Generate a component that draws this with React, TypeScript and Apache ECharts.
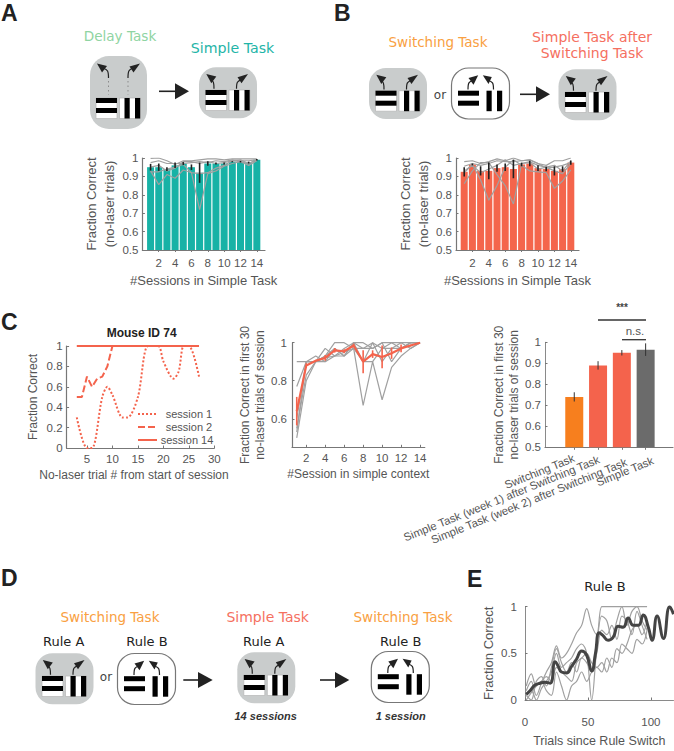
import React, { useEffect, useRef } from "react";
import * as echarts from "echarts";

const sessions = [1, 2, 3, 4, 5, 6, 7, 8, 9, 10, 11, 12, 13, 14];
const sessionTicks = [2, 4, 6, 8, 10, 12, 14];

// Panel A
const simpleBars = [0.95, 0.95, 0.94, 0.96, 0.97, 0.95, 0.92, 0.97, 0.97, 0.97, 0.98, 0.98, 0.975, 0.99];
const simpleErr = [0.018, 0.02, 0.01, 0.015, 0.008, 0.015, 0.055, 0.012, 0.006, 0.005, 0.003, 0.004, 0.005, 0.004];
const simpleMice = [
  [0.998, 1, 0.985, 0.965, 0.985, 0.985, 0.99, 0.995, 0.995, 0.99, 0.995, 0.995, 0.995, 0.995],
  [0.975, 0.985, 0.97, 0.97, 0.97, 0.975, 0.98, 0.975, 0.985, 0.98, 0.99, 0.985, 0.985, 0.99],
  [0.93, 0.855, 0.91, 0.89, 0.935, 0.92, 0.72, 0.915, 0.93, 0.955, 0.97, 0.98, 0.96, 0.985],
  [0.925, 0.925, 0.94, 0.95, 0.965, 0.92, 0.915, 0.92, 0.945, 0.96, 0.985, 0.99, 0.97, 0.99],
  [0.95, 0.96, 0.93, 0.945, 0.98, 0.98, 0.97, 0.98, 0.97, 0.975, 0.985, 0.98, 0.97, 0.99],
];

// Panel B
const afterBars = [0.925, 0.965, 0.93, 0.93, 0.945, 0.95, 0.94, 0.965, 0.97, 0.945, 0.94, 0.93, 0.94, 0.975];
const afterErr = [0.025, 0.005, 0.025, 0.045, 0.02, 0.02, 0.05, 0.01, 0.015, 0.015, 0.012, 0.025, 0.015, 0.012];
const afterMice = [
  [0.98, 0.985, 0.97, 0.98, 0.995, 0.985, 1, 0.985, 0.99, 0.97, 0.96, 0.985, 0.985, 1],
  [0.92, 0.965, 0.88, 0.77, 0.85, 0.95, 0.99, 0.96, 0.93, 0.925, 0.92, 0.835, 0.875, 0.935],
  [0.86, 0.93, 0.975, 0.975, 0.91, 0.85, 0.75, 0.97, 0.98, 0.96, 0.95, 0.93, 0.915, 0.97],
  [0.955, 0.97, 0.96, 0.97, 0.985, 0.98, 0.98, 0.985, 0.99, 0.97, 0.945, 0.95, 0.96, 0.975],
  [0.93, 0.96, 0.92, 0.94, 0.96, 0.99, 0.96, 0.97, 0.975, 0.94, 0.95, 0.96, 0.93, 0.985],
];

// Panel C, left
const session1 = [[3, 0.3], [5, 0], [6, 0], [8, 0.5], [9, 0.6], [10, 0.52], [12, 0.3], [13, 0.3], [15, 0.5], [17, 1], [19, 1], [20, 0.85], [22, 0.68], [23, 0.75], [24, 1], [25, 1], [27, 0.7]];
const session2 = [[3, 0.5], [4, 0.5], [5, 0.7], [6, 0.6], [7, 0.68], [8, 0.7], [9, 0.8], [10, 1]];
const session14 = [[3, 1], [27, 1]];
const trialTicks = [5, 10, 15, 20, 25, 30];

// Panel C, middle
const contextMean = [0.64, 0.88, 0.905, 0.92, 0.96, 0.955, 0.985, 0.9, 0.94, 0.925, 0.945, 0.97, 0.985, 1];
const contextErr = [0.075, 0.012, 0.005, 0.015, 0.012, 0.01, 0.01, 0.06, 0.02, 0.06, 0.03, 0.02, 0.005, 0];
const contextMice = [
  [0.5, 0.8, 0.9, 0.9, 0.93, 0.93, 0.97, 0.67, 0.9, 0.7, 0.87, 0.93, 0.97, 1],
  [0.77, 0.9, 0.93, 0.9, 0.97, 0.93, 1, 0.9, 1, 0.97, 1, 0.97, 1, 1],
  [0.53, 0.9, 0.9, 0.97, 0.93, 0.97, 1, 1, 0.97, 1, 0.9, 0.97, 1, 1],
  [0.55, 0.83, 0.9, 0.93, 1, 1, 0.97, 0.97, 1, 0.9, 0.97, 1, 1, 1],
  [0.6, 0.9, 0.9, 0.93, 0.97, 0.93, 1, 0.97, 0.97, 1, 1, 1, 0.97, 1],
  [0.9, 0.9, 0.9, 0.92, 0.93, 0.95, 0.97, 0.9, 0.9, 0.97, 0.97, 0.97, 1, 1],
];
const contextYTicks = [0.6, 0.8, 1];

// Panel C, right
const taskNames = ["Switching Task", "Simple Task (week 1) after Switching Task", "Simple Task (week 2) after Switching Task", "Simple Task"];
const taskPositions = [1, 2, 3, 4];
const taskValues = [0.74, 0.89, 0.95, 0.965];
const taskErr = [0.022, 0.02, 0.013, 0.03];
const taskColors = ["#f77f1e", "#f4634c", "#f4634c", "#6b6b6b"];

// Panel E
const ruleTicks = [0, 50, 100];
const ruleTrials = [1, 5, 9, 13, 17, 21, 25, 29, 33, 37, 41, 45, 49, 53, 57, 61, 65, 69, 73, 77, 81, 85, 89, 93, 97];
const ruleMice = [
  [0.1, 0.2, 0.05, 0.18, 0.3, 0.4, 0.58, 0.45, 0.5, 0.6, 0.72, 0.8, 0.98, 0.8, 0.7, 1, 1, 1, 1, 1, 1, 1, 1, 1, 1],
  [0.05, 0.1, 0, 0.12, 0.2, 0.3, 0.5, 0.35, 0.4, 0.45, 0.55, 0.6, 0.5, 0, 0.55, 0.9, 0.85, 0.65, 0.85, 1, 0.8, 0.95, 1, 0.85, 0.75],
  [0, 0.08, 0.15, 0.2, 0.1, 0.05, 0.3, 0.15, 0, 0.15, 0.2, 0.3, 0.2, 0.3, 0.35, 0.3, 0.45, 0.35, 0.55, 0.5, 0.6, 0.75, 0.8, 0.7, 0.85],
  [0.15, 0.28, 0.15, 0.2, 0.25, 0.2, 0.35, 0.3, 0.25, 0.2, 0.4, 0.45, 0.5, 0.4, 0.35, 0.4, 0.3, 0.45, 0.4, 0.6, 0.55, 0.5, 0.65, 0.6, 0.75],
  [0.05, 0, 0.2, 0.25, 0.15, 0.35, 0.55, 0.4, 0.3, 0.4, 0.3, 0.45, 0.4, 0.3, 0.5, 0.75, 0.7, 0.8, 0.65, 0.9, 0.85, 0.7, 0.95, 0.8, 0.65],
];
const ruleMeanTrials = [1, 4, 8, 12, 16, 20, 24, 26.5, 29, 33, 37, 41, 45, 49, 53, 56, 59, 62, 66, 70, 74, 78, 82, 86, 90, 94, 98, 101, 105, 110, 115, 118];
const ruleMean = [0.06, 0.1, 0.16, 0.18, 0.19, 0.18, 0.41, 0.36, 0.3, 0.29, 0.36, 0.44, 0.525, 0.48, 0.31, 0.5, 0.72, 0.69, 0.64, 0.67, 0.79, 0.78, 0.88, 0.8, 0.8, 0.91, 0.78, 0.64, 0.9, 0.66, 1, 0.92];

const SANS = '"Liberation Sans", Arial, sans-serif';
const DIAGRAM = '"DejaVu Sans", Verdana, sans-serif';
const AXIS = "#777777";
const TEXT = "#555555";
const MOUSE = "#a0a0a0";
const ICON = "#c9cccc";

const zip = (xs: number[], ys: number[]) => xs.map((x, i) => [x, ys[i]]);

function axisBase(fontSize = 11.5) {
  return {
    axisLine: { show: true, onZero: false, lineStyle: { color: AXIS, width: 1.2 } },
    axisTick: { show: true, inside: true, length: 2.5, lineStyle: { color: AXIS, width: 1 } },
    axisLabel: { color: TEXT, fontFamily: SANS, fontSize, margin: 4, hideOverlap: false, showMinLabel: true, showMaxLabel: true },
    splitLine: { show: false },
    nameTextStyle: { color: TEXT, fontFamily: SANS, fontSize: 13, lineHeight: 18 },
  };
}

function errorSeries(axis: number, xs: number[], means: number[], errs: number[], color: string, width: number) {
  return {
    type: "custom",
    xAxisIndex: axis,
    yAxisIndex: axis,
    z: 6,
    clip: false,
    data: xs.map((x, i) => [x, means[i] - errs[i], means[i] + errs[i]]),
    renderItem: (_p: any, api: any) => {
      const a = api.coord([api.value(0), api.value(1)]);
      const b = api.coord([api.value(0), api.value(2)]);
      return { type: "line", shape: { x1: a[0], y1: a[1], x2: b[0], y2: b[1] }, style: { stroke: color, lineWidth: width } };
    },
  };
}

function miceSeries(axis: number, xs: number[], mice: number[][], smooth = 0) {
  return mice.map((m) => ({
    type: "line",
    xAxisIndex: axis,
    yAxisIndex: axis,
    data: zip(xs, m),
    smooth,
    symbol: "none",
    z: 4,
    lineStyle: { color: MOUSE, width: 1.2 },
  }));
}

function label(text: string, x: number, y: number, fill: string, font: string, align = "center") {
  return { type: "text", silent: true, style: { text, x, y, fill, font, align, verticalAlign: "middle" } };
}

function rotatedLabel(text: string, x: number, y: number) {
  return {
    type: "text",
    silent: true,
    x,
    y,
    rotation: (22 * Math.PI) / 180,
    style: { text, x: 0, y: 0, fill: TEXT, font: `11.3px ${SANS}`, align: "right", verticalAlign: "middle" },
  };
}

function line(x1: number, y1: number, x2: number, y2: number, stroke: string, lineWidth: number, lineDash?: number[]) {
  return { type: "line", silent: true, shape: { x1, y1, x2, y2 }, style: { stroke, lineWidth, lineDash } };
}

function bigArrow(x0: number, x1: number, x2: number, y: number) {
  return [
    line(x0, y, x1, y, "#222222", 1.6),
    { type: "polygon", silent: true, shape: { points: [[x1, y - 8], [x2, y], [x1, y + 8]] }, style: { fill: "#222222" } },
  ];
}

function stimuli(x: number, y: number, framed: boolean) {
  const out: any[] = [];
  if (framed) {
    out.push({ type: "rect", silent: true, shape: { x, y, width: 21, height: 20.5 }, style: { fill: "#ffffff", stroke: "#b5b5b5", lineWidth: 0.7 } });
    out.push({ type: "rect", silent: true, shape: { x: x + 23.5, y, width: 21, height: 20.5 }, style: { fill: "#ffffff", stroke: "#b5b5b5", lineWidth: 0.7 } });
  }
  for (const dy of [0, 10]) {
    out.push({ type: "rect", silent: true, shape: { x, y: y + dy, width: 21, height: 5 }, style: { fill: "#000000" } });
  }
  for (const dx of [5, 15.5]) {
    out.push({ type: "rect", silent: true, shape: { x: x + 23.5 + dx, y, width: 5.2, height: 20.5 }, style: { fill: "#000000" } });
  }
  return out;
}

function curvedArrow(sx: number, sy: number, cx: number, cy: number, ex: number, ey: number, head: number[][]) {
  return [
    { type: "bezierCurve", silent: true, shape: { x1: sx, y1: sy, cpx1: sx, cpy1: cy, cpx2: cx, cpy2: cy, x2: ex, y2: ey }, style: { stroke: "#222222", lineWidth: 1.2, fill: "none" } },
    { type: "polygon", silent: true, shape: { points: head }, style: { fill: "#222222" } },
  ];
}

function icon(x: number, y: number, filled: boolean) {
  const rule = filled
    ? [
        ...curvedArrow(x + 15, y + 21.5, x + 14, y + 14, x + 12, y + 12, [[x + 7.3, y + 6.7], [x + 17.3, y + 9.3], [x + 12.3, y + 16]]),
        ...curvedArrow(x + 37.5, y + 21.5, x + 38.5, y + 14, x + 43, y + 12, [[x + 49, y + 6.7], [x + 38.5, y + 10], [x + 42.5, y + 16]]),
      ]
    : [
        ...curvedArrow(x + 16.5, y + 21.5, x + 17.5, y + 14, x + 22, y + 12, [[x + 26.7, y + 7.3], [x + 17, y + 10], [x + 22, y + 16.7]]),
        ...curvedArrow(x + 42, y + 21.5, x + 41, y + 14, x + 36, y + 12, [[x + 31.3, y + 7.3], [x + 40.3, y + 9], [x + 37, y + 16]]),
      ];
  return [
    {
      type: "rect",
      silent: true,
      shape: { x, y, width: 58, height: 51, r: 17 },
      style: filled ? { fill: ICON } : { fill: "#ffffff", stroke: "#777777", lineWidth: 1.2 },
    },
    ...stimuli(x + 6.5, y + 22.7, filled),
    ...rule,
  ];
}

function delayIcon(x: number, y: number) {
  return [
    { type: "rect", silent: true, shape: { x, y, width: 57, height: 73, r: 19 }, style: { fill: ICON } },
    ...stimuli(x + 6, y + 42, true),
    ...curvedArrow(x + 18.5, y + 22, x + 17.5, y + 14, x + 13, y + 12, [[x + 7, y + 7.5], [x + 17, y + 10], [x + 12, y + 16.5]]),
    ...curvedArrow(x + 38, y + 22, x + 39, y + 14, x + 43, y + 12, [[x + 50, y + 7.5], [x + 39.5, y + 10.5], [x + 43.5, y + 16.5]]),
    line(x + 18.5, y + 25, x + 18.5, y + 39, "#8a8a8a", 1, [1.5, 3]),
    line(x + 38, y + 25, x + 38, y + 39, "#8a8a8a", 1, [1.5, 3]),
  ];
}

function diagramElements() {
  const letter = (t: string, x: number, y: number) => label(t, x, y, "#222222", `bold 23px ${SANS}`, "left");
  const head = (t: string, x: number, y: number, c: string, size = 13.5) => label(t, x, y, c, `${size}px ${DIAGRAM}`);
  const GREEN = "#8fd4a2";
  const TEAL = "#1fb5a8";
  const ORANGE = "#f9a042";
  const CORAL = "#f5705f";
  const rule = (t: string, x: number) => label(t, x, 641.7, "#222222", `13px ${DIAGRAM}`);
  return [
    letter("A", 1, 13), letter("B", 334, 13), letter("C", 1, 322), letter("D", 1, 578), letter("E", 467, 579),
    head("Delay Task", 120, 36, GREEN, 13.6),
    head("Simple Task", 232.5, 48, TEAL, 14.2),
    head("Switching Task", 438, 42, ORANGE),
    head("Simple Task after", 592, 37, CORAL, 14),
    head("Switching Task", 592, 53, CORAL, 14),
    head("Switching Task", 110, 617, ORANGE),
    head("Simple Task", 267.7, 617, CORAL, 14),
    head("Switching Task", 403, 617, ORANGE),
    rule("Rule A", 63.7), rule("Rule B", 147), rule("Rule A", 263.7), rule("Rule B", 400.7),
    label("or", 440, 95, "#444444", `12px ${DIAGRAM}`),
    label("or", 106, 677, "#444444", `12px ${DIAGRAM}`),
    label("14 sessions", 265.7, 715.7, "#333333", `italic bold 11px ${SANS}`),
    label("1 session", 400.7, 715.7, "#333333", `italic bold 11px ${SANS}`),
    label("Rule B", 605, 586, "#222222", `13px ${DIAGRAM}`),
    label("Mouse ID 74", 141.7, 333, "#222222", `bold 12px ${SANS}`),
    rotatedLabel(taskNames[0], 574, 457.5),
    rotatedLabel(taskNames[1], 599, 459),
    rotatedLabel(taskNames[2], 626.5, 461.5),
    rotatedLabel(taskNames[3], 653, 460),
    ...delayIcon(90, 56),
    ...icon(199, 67.3, true),
    ...bigArrow(159, 175, 189, 91.3),
    ...icon(369, 68, true),
    ...icon(451.5, 68, false),
    ...bigArrow(520, 536, 550, 94.3),
    ...icon(558.5, 69.3, true),
    ...icon(35.5, 653.3, true),
    ...icon(117.5, 653.5, false),
    ...bigArrow(183.3, 198, 212.7, 680),
    ...icon(237.3, 652.3, true),
    ...bigArrow(320, 335, 349.3, 680),
    ...icon(371.3, 651.5, false),
    // legend of the "Mouse ID 74" chart
    line(138, 414, 157, 414, "#f4634c", 2, [2, 2]),
    line(138, 427, 157, 427, "#f4634c", 2, [7, 3]),
    line(138, 440, 157, 440, "#f4634c", 2),
    label("session 1", 189, 414, TEXT, `11px ${SANS}`),
    label("session 2", 189, 427, TEXT, `11px ${SANS}`),
    label("session 14", 187, 440, TEXT, `11px ${SANS}`),
    // significance brackets
    line(598, 320, 646, 320, "#333333", 1.3),
    line(622, 339.7, 646, 339.7, "#333333", 1.3),
    label("***", 622, 307, "#444444", `bold 10px ${SANS}`),
    label("n.s.", 635, 331, TEXT, `11.5px ${SANS}`),
  ];
}

function buildOption() {
  const base = axisBase();
  const thin = { ...base.axisLine, lineStyle: { color: "#8a8a8a", width: 1 } };
  const sessionX = {
    ...base,
    type: "value",
    min: 0,
    max: 15,
    axisLabel: { ...base.axisLabel, margin: 7, customValues: sessionTicks },
    axisTick: { ...base.axisTick, inside: false, length: 2, customValues: sessionTicks },
    name: "#Sessions in Simple Task",
    nameLocation: "middle",
    nameGap: 21,
  };
  const fracY = {
    ...base,
    type: "value",
    min: 0.5,
    max: 1,
    interval: 0.1,
    name: "Fraction Correct\n(no-laser trials)",
    nameLocation: "middle",
    nameRotate: 90,
    nameGap: 19,
  };
  const grids = [
    { left: 142.4, top: 158, width: 122.6, height: 92 },
    { left: 456, top: 158, width: 123, height: 92 },
    { left: 66.6, top: 346, width: 147.7, height: 102 },
    { left: 292, top: 342.7, width: 132.8, height: 104.6 },
    { left: 545, top: 342.3, width: 128, height: 105 },
    { left: 525, top: 606.7, width: 148.5, height: 106.6 },
  ];
  const xAxis: any[] = [
    { ...sessionX, gridIndex: 0 },
    { ...sessionX, gridIndex: 1 },
    {
      ...base, gridIndex: 2, type: "value", min: 1, max: 30,
      axisLabel: { ...base.axisLabel, margin: 5, customValues: trialTicks },
      axisTick: { ...base.axisTick, customValues: trialTicks },
      name: "No-laser trial # from start of session",
      nameLocation: "middle", nameGap: 14,
      nameTextStyle: { ...base.nameTextStyle, fontSize: 12, padding: [0, 13, 0, 0] },
    },
    {
      ...base, gridIndex: 3, type: "value", min: 0.5, max: 14.5,
      axisLabel: { ...base.axisLabel, margin: 5, customValues: sessionTicks },
      axisTick: { ...base.axisTick, customValues: sessionTicks },
      name: "#Session in simple context",
      nameLocation: "middle", nameGap: 14,
      nameTextStyle: { ...base.nameTextStyle, fontSize: 12 },
    },
    {
      ...base, gridIndex: 4, type: "value", min: -0.23, max: 5.15,
      axisTick: { show: true, inside: false, length: 2.5, lineStyle: { color: AXIS }, customValues: taskPositions },
      axisLabel: { show: false },
    },
    {
      ...base, gridIndex: 5, type: "value", min: 0, max: 118,
      axisLine: thin,
      axisLabel: { ...base.axisLabel, margin: 16, customValues: ruleTicks },
      axisTick: { ...base.axisTick, customValues: ruleTicks },
      name: "Trials since Rule Switch",
      nameLocation: "middle", nameGap: 32,
      nameTextStyle: { ...base.nameTextStyle, fontSize: 12.5 },
    },
  ];
  const yAxis: any[] = [
    { ...fracY, gridIndex: 0 },
    { ...fracY, gridIndex: 1 },
    {
      ...base, gridIndex: 2, type: "value", min: 0, max: 1, interval: 0.2,
      name: "Fraction Correct", nameLocation: "middle", nameRotate: 90, nameGap: 25,
      nameTextStyle: { ...base.nameTextStyle, fontSize: 12 },
    },
    {
      ...base, gridIndex: 3, type: "value", min: 0.45, max: 1,
      axisLabel: { ...base.axisLabel, margin: 5, customValues: contextYTicks },
      axisTick: { ...base.axisTick, customValues: contextYTicks },
      name: "Fraction Correct in first 30\nno-laser trials of session",
      nameLocation: "middle", nameRotate: 90, nameGap: 22,
      nameTextStyle: { ...base.nameTextStyle, fontSize: 12, lineHeight: 15 },
    },
    {
      ...base, gridIndex: 4, type: "value", min: 0.5, max: 1, interval: 0.1,
      axisLine: thin,
      name: "Fraction Correct in first 30\nno-laser trials of session",
      nameLocation: "middle", nameRotate: 90, nameGap: 21.5,
      nameTextStyle: { ...base.nameTextStyle, fontSize: 12, lineHeight: 15 },
    },
    {
      ...base, gridIndex: 5, type: "value", min: 0, max: 1, interval: 0.5,
      axisLine: thin,
      axisLabel: { ...base.axisLabel, margin: 8 },
      name: "Fraction Correct", nameLocation: "middle", nameRotate: 90, nameGap: 28,
    },
  ];
  const bars = (axis: number, values: number[], color: string) => ({
    type: "bar",
    xAxisIndex: axis,
    yAxisIndex: axis,
    data: zip(sessions, values),
    barWidth: 7,
    z: 2,
    itemStyle: { color },
  });
  const series: any[] = [
    bars(0, simpleBars, "#17b2a6"),
    ...miceSeries(0, sessions, simpleMice),
    errorSeries(0, sessions, simpleBars, simpleErr, "#222222", 1.6),
    bars(1, afterBars, "#f4654c"),
    ...miceSeries(1, sessions, afterMice),
    errorSeries(1, sessions, afterBars, afterErr, "#222222", 1.6),
    { type: "line", xAxisIndex: 2, yAxisIndex: 2, data: session1, smooth: 0.3, symbol: "none", lineStyle: { color: "#f4634c", width: 2, type: [2, 2] } },
    { type: "line", xAxisIndex: 2, yAxisIndex: 2, data: session2, symbol: "none", lineStyle: { color: "#f4634c", width: 2, type: [7, 3] } },
    { type: "line", xAxisIndex: 2, yAxisIndex: 2, data: session14, symbol: "none", clip: false, lineStyle: { color: "#f4634c", width: 2 } },
    ...miceSeries(3, sessions, contextMice),
    { type: "line", xAxisIndex: 3, yAxisIndex: 3, data: zip(sessions, contextMean), symbol: "none", z: 5, clip: false, lineStyle: { color: "#f4634c", width: 2.2 } },
    errorSeries(3, sessions, contextMean, contextErr, "#f4634c", 1.6),
    {
      type: "bar", xAxisIndex: 4, yAxisIndex: 4, barWidth: 18, z: 2,
      data: taskPositions.map((p, i) => ({ value: [p, taskValues[i]], itemStyle: { color: taskColors[i] } })),
    },
    errorSeries(4, taskPositions, taskValues, taskErr, "#333333", 1),
    ...miceSeries(5, ruleTrials, ruleMice, 0.35),
    { type: "line", xAxisIndex: 5, yAxisIndex: 5, data: zip(ruleMeanTrials, ruleMean), smooth: 0.5, symbol: "none", z: 5, lineStyle: { color: "#444444", width: 3 } },
  ];
  return { animation: false, backgroundColor: "#ffffff", grid: grids, xAxis, yAxis, series, graphic: { elements: diagramElements() } };
}

export default function App() {
  const ref = useRef<HTMLDivElement>(null);
  useEffect(() => {
    document.body.style.margin = "0";
    const chart = echarts.init(ref.current!, undefined, { renderer: "svg" });
    chart.setOption(buildOption() as any);
    return () => chart.dispose();
  }, []);
  return <div ref={ref} style={{ width: 674, height: 751 }} />;
}
